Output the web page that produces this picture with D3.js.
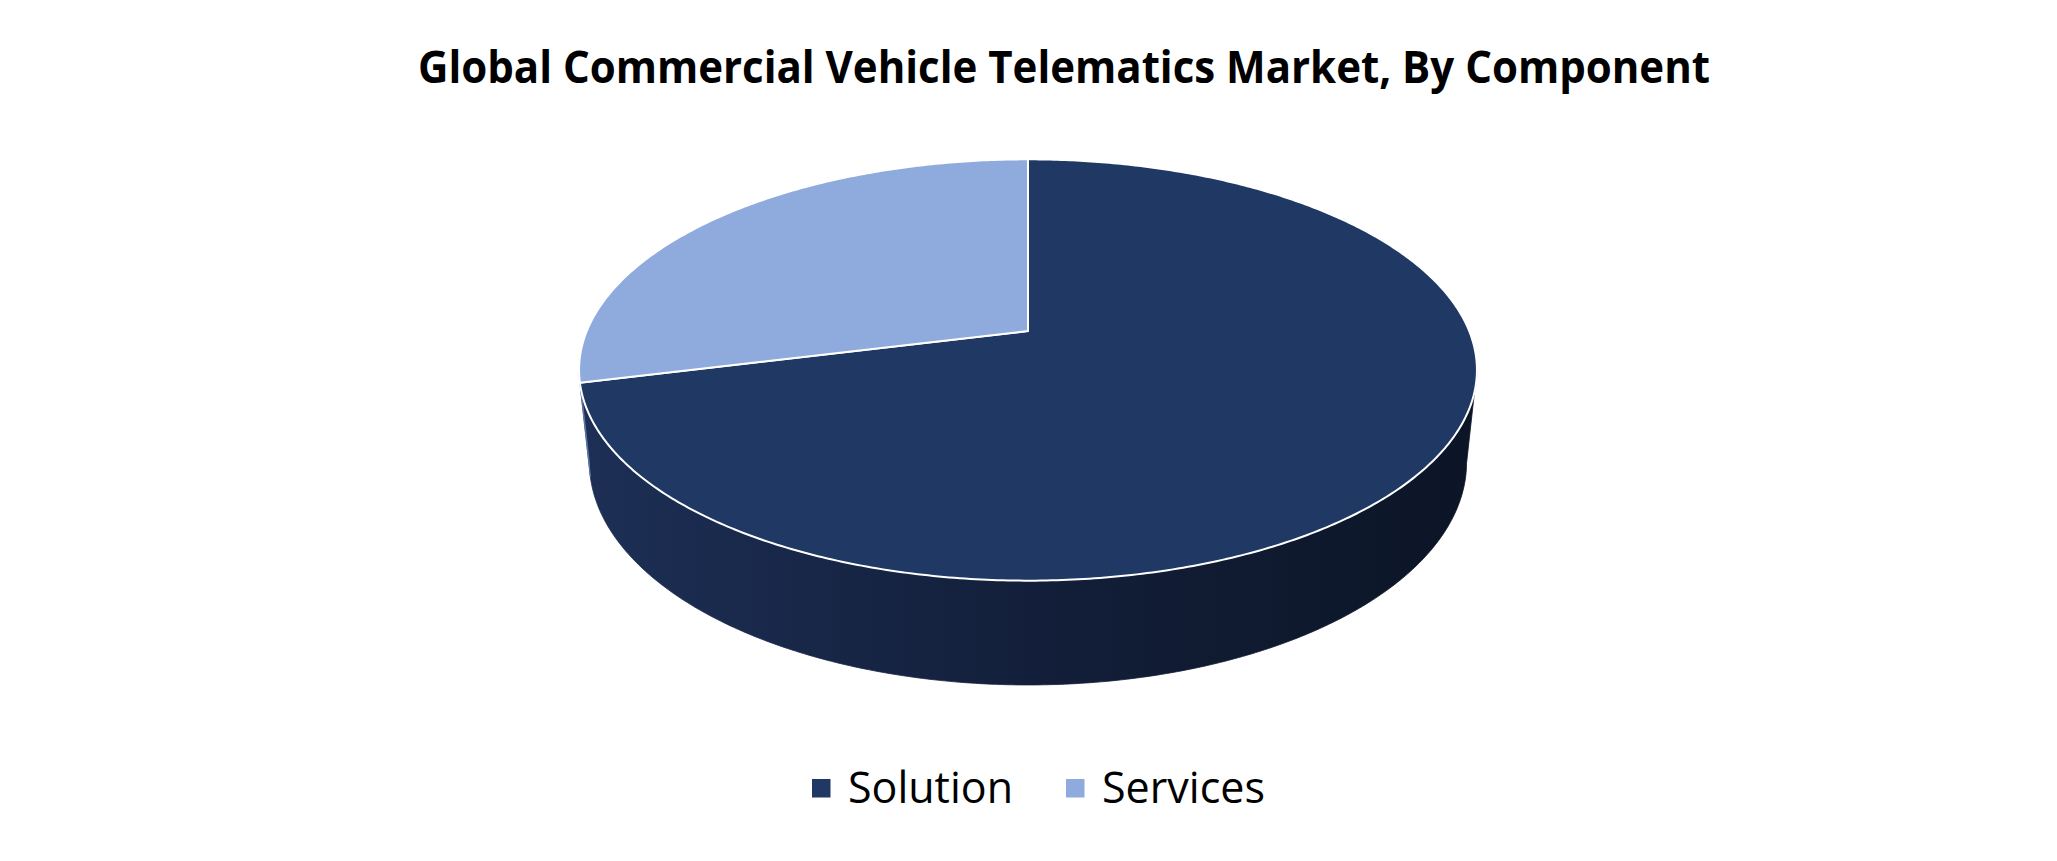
<!DOCTYPE html>
<html>
<head>
<meta charset="utf-8">
<script src="https://cdn.jsdelivr.net/npm/d3@7"></script>
<style>
  html, body { margin: 0; padding: 0; background: #fff; }
  svg { display: block; }
</style>
</head>
<body>
<div id="chart"></div>
<script>
// chart data
var categories = ["Solution", "Services"];
var values = [71.1, 28.9];
var topColors = ["#1f3864", "#8faadc"];
var sideColors = [["#1d2f56", "#131f3a", "#0c1526"], ["#5f77a6", "#4d6390", "#3e5078"]];
var title = "Global Commercial Vehicle Telematics Market, By Component";

var width = 2057, height = 861;

var svg = d3.select("#chart").append("svg")
    .attr("width", width)
    .attr("height", height);

// perspective camera for the 3d pie (camera distance = 1)
var tilt = 27.46 * Math.PI / 180,
    R = 0.2086,      // pie radius
    depthH = 0.0496, // pie thickness
    cx = 1028, cy = 331, k = 2115;

var xs = d3.scaleLinear().domain([0, 1]).range([cx, cx + k]);
var ys = d3.scaleLinear().domain([0, 1]).range([cy, cy - k]);

function proj(phi, Y) {
    var X = R * Math.sin(phi), Z = -R * Math.cos(phi);
    var d = 1 - Y * Math.sin(tilt) - Z * Math.cos(tilt);
    var up = Y * Math.cos(tilt) - Z * Math.sin(tilt);
    return [xs(X / d), ys(up / d)];
}

function rim(a0, a1, Y) {
    var n = Math.max(2, Math.ceil(Math.abs(a1 - a0) / 0.01));
    return d3.range(n + 1).map(function (i) {
        return proj(a0 + (a1 - a0) * i / n, Y);
    });
}

var line = d3.line();

var pie = d3.pie().sort(null).startAngle(0).endAngle(2 * Math.PI);
var arcs = pie(values);

// silhouette angles (front part of the side wall)
var a = R * Math.cos(tilt);
var phiR = Math.acos(-a), phiL = 2 * Math.PI - phiR;

var defs = svg.append("defs");
sideColors.forEach(function (c, i) {
    var g = defs.append("linearGradient")
        .attr("id", "side" + i)
        .attr("gradientUnits", "userSpaceOnUse")
        .attr("x1", cx - 449).attr("x2", cx + 449)
        .attr("y1", 0).attr("y2", 0);
    g.append("stop").attr("offset", "0").attr("stop-color", c[0]);
    g.append("stop").attr("offset", "0.5").attr("stop-color", c[1]);
    g.append("stop").attr("offset", "1").attr("stop-color", c[2]);
});

// side walls
arcs.forEach(function (d, i) {
    var s = Math.max(d.startAngle, phiR), e = Math.min(d.endAngle, phiL);
    if (e <= s) return;
    var pts = rim(s, e, 0).concat(rim(e, s, -depthH));
    svg.append("path")
        .attr("d", line(pts) + "Z")
        .attr("fill", "url(#side" + i + ")")
        .attr("stroke", "url(#side" + i + ")")
        .attr("stroke-width", 0.8);
});

// top faces
arcs.forEach(function (d, i) {
    var pts = [[xs(0), ys(0)]].concat(rim(d.startAngle, d.endAngle, 0));
    svg.append("path")
        .attr("d", line(pts) + "Z")
        .attr("fill", topColors[i])
        .attr("stroke", "#ffffff")
        .attr("stroke-width", 2)
        .attr("stroke-linejoin", "round");
});

// title
svg.append("text")
    .attr("x", 1064)
    .attr("y", 83)
    .attr("text-anchor", "middle")
    .attr("font-family", "'Open Sans', 'Noto Sans', sans-serif")
    .attr("font-weight", "bold")
    .attr("font-size", 45)
    .attr("textLength", 1292)
    .attr("lengthAdjust", "spacingAndGlyphs")
    .text(title);

// legend
var legX = [812, 1066];
var legW = [165, 163];
var legend = svg.selectAll("g.leg").data(categories).enter().append("g")
    .attr("class", "leg")
    .attr("transform", function (d, i) { return "translate(" + legX[i] + ",0)"; });
legend.append("rect")
    .attr("x", 0).attr("y", 779)
    .attr("width", 18.5).attr("height", 18.5)
    .attr("fill", function (d, i) { return topColors[i]; });
legend.append("text")
    .attr("x", 36).attr("y", 803)
    .attr("font-family", "'Open Sans', 'Noto Sans', sans-serif")
    .attr("font-size", 44)
    .attr("fill", "#000")
    .attr("textLength", function (d, i) { return legW[i]; })
    .attr("lengthAdjust", "spacingAndGlyphs")
    .text(function (d) { return d; });
</script>
</body>
</html>
